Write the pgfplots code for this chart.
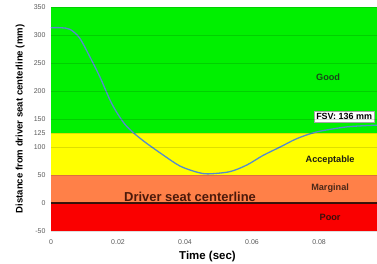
\documentclass[border=0pt]{standalone}
\usepackage{pgfplots}
\pgfplotsset{compat=1.18}
\usepackage{fontspec}
\setmainfont{Liberation Sans}
\definecolor{cgood}{RGB}{0,240,0}
\definecolor{cacc}{RGB}{255,255,0}
\definecolor{cmarg}{RGB}{255,128,72}
\definecolor{cpoor}{RGB}{250,0,0}
\definecolor{ccurve}{RGB}{85,140,205}
\definecolor{ctick}{RGB}{90,90,90}
\definecolor{cline}{RGB}{60,20,10}
\begin{document}
\begin{tikzpicture}[x=1bp,y=1bp]
\begin{axis}[
  name=ax,
  scale only axis,
  width=326bp, height=224bp,
  xmin=0, xmax=0.0973,
  ymin=-50, ymax=350,
  axis on top,
  axis line style={draw=none},
  tick style={draw=none},
  scaled x ticks=false,
  scaled y ticks=false,
  xtick={0,0.02,0.04,0.06,0.08},
  xticklabels={0,0.02,0.04,0.06,0.08},
  ytick={-50,0,50,100,125,150,200,250,300,350},
  yticklabels={-50,0,50,100,125,150,200,250,300,350},
  ymajorgrids,
  grid style={black, opacity=0.13, line width=0.5bp},
  /pgf/number format/assume math mode=true,
  ticklabel style={font=\fontsize{7}{8}\selectfont, text=ctick},
  yticklabel style={xshift=-2bp},
  xticklabel style={yshift=-5bp},
  xlabel={\textbf{Time (sec)}},
  xlabel style={font=\fontsize{11.5}{13}\selectfont, at={(axis description cs:0.48,-0.116)}, anchor=center},
  ylabel={\textbf{Distance from driver seat centerline (mm)}},
  ylabel style={font=\fontsize{9.6}{11}\selectfont, at={(axis description cs:-0.095,0.5)}, anchor=center},
  clip=true,
]
\addplot[fill=cgood, draw=none] coordinates {(0,125) (0.0973,125) (0.0973,350) (0,350)} -- cycle;
\addplot[fill=cacc, draw=none] coordinates {(0,50) (0.0973,50) (0.0973,125) (0,125)} -- cycle;
\addplot[fill=cmarg, draw=none] coordinates {(0,0) (0.0973,0) (0.0973,50) (0,50)} -- cycle;
\addplot[fill=cpoor, draw=none] coordinates {(0,-50) (0.0973,-50) (0.0973,0) (0,0)} -- cycle;
\addplot[cline, line width=2bp] coordinates {(0,0) (0.0973,0)};
\addplot[ccurve, line width=1.3bp, smooth, tension=0.5] coordinates {
(0,313) (0.003,313) (0.0057,310) (0.0085,295) (0.0116,261) (0.0146,225)
(0.0176,184) (0.0196,162) (0.022,141) (0.0245,126) (0.028,109) (0.0334,86)
(0.0385,66) (0.0436,55) (0.0469,52) (0.0534,56) (0.0585,68) (0.0633,85)
(0.0684,100) (0.0734,115) (0.0794,127) (0.0884,136) (0.0973,139)};
\node[font=\fontsize{9.2}{11}\selectfont\bfseries, text={rgb,255:red,25;green,70;blue,25}] at (axis cs:0.0827,225) {Good};
\node[font=\fontsize{9.2}{11}\selectfont\bfseries, text={rgb,255:red,30;green,30;blue,20}] at (axis cs:0.0833,77) {Acceptable};
\node[font=\fontsize{9.2}{11}\selectfont\bfseries, text={rgb,255:red,75;green,40;blue,25}] at (axis cs:0.0833,27) {Marginal};
\node[font=\fontsize{9.2}{11}\selectfont\bfseries, text={rgb,255:red,60;green,15;blue,10}] at (axis cs:0.0833,-25) {Poor};
\node[font=\fontsize{13}{15}\selectfont\bfseries, text={rgb,255:red,75;green,25;blue,10}, anchor=base] at (axis cs:0.0415,3) {Driver seat centerline};
\node[font=\fontsize{9}{11}\selectfont\bfseries, fill=white, draw=gray!70, inner sep=2bp, text=black] at (axis cs:0.0875,154) {FSV: 136 mm};
\end{axis}
\pgfresetboundingbox
\path[use as bounding box] ([xshift=-51bp,yshift=-33bp]ax.south west) rectangle ([yshift=7bp]ax.north east);
\end{tikzpicture}
\end{document}
